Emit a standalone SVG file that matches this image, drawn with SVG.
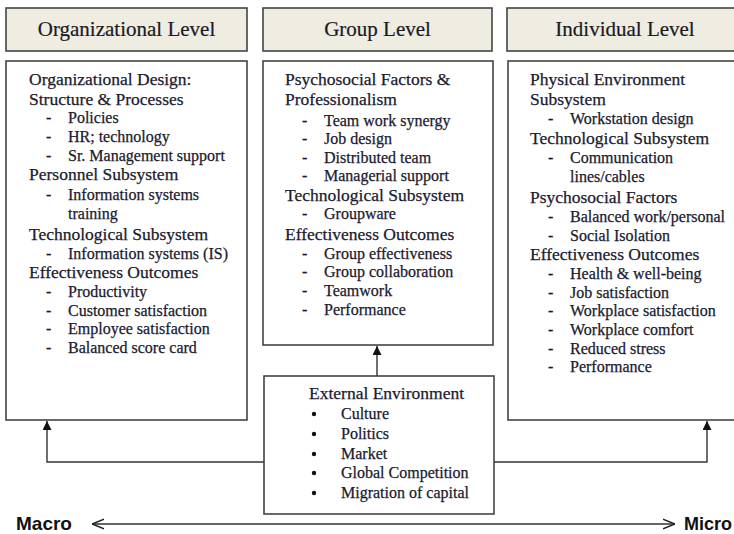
<svg xmlns="http://www.w3.org/2000/svg" width="734" height="534" viewBox="0 0 734 534">
<defs>
<marker id="tri" viewBox="0 0 10 10" refX="10" refY="5" markerWidth="9" markerHeight="9" markerUnits="userSpaceOnUse" orient="auto">
<path d="M0,0 L10,5 L0,10 z" fill="#111"/>
</marker>
<marker id="chev" viewBox="0 0 10 10" refX="10" refY="5" markerWidth="12" markerHeight="12" markerUnits="userSpaceOnUse" orient="auto-start-reverse">
<path d="M0,1 L10,5 L0,9" fill="none" stroke="#222" stroke-width="1.2"/>
</marker>
</defs>
<style>
.hdr{fill:#efece1;stroke:#444;stroke-width:1.6}
.box{fill:#fff;stroke:#444;stroke-width:1.6}
.ttl{font-family:"Liberation Serif",serif;font-size:21px;fill:#1a1a24;text-anchor:middle;stroke:#1a1a24;stroke-width:0.2}
.h{font-family:"Liberation Serif",serif;font-size:17.5px;fill:#1a1a2e;stroke:#1a1a2e;stroke-width:0.25}
.i{font-family:"Liberation Serif",serif;font-size:16px;fill:#1a1a2e;stroke:#1a1a2e;stroke-width:0.25}
.edge{fill:none;stroke:#333;stroke-width:1.4}
.lbl{font-family:"Liberation Sans",sans-serif;font-size:19px;font-weight:bold;fill:#111}
</style>
<rect width="734" height="534" fill="#fff"/>

<g id="org-header">
<rect class="hdr" x="6" y="8" width="241" height="43"/>
<text class="ttl" x="126.5" y="36">Organizational Level</text>
</g>
<g id="group-header">
<rect class="hdr" x="263" y="8" width="229" height="43"/>
<text class="ttl" x="377.5" y="36">Group Level</text>
</g>
<g id="individual-header">
<rect class="hdr" x="507" y="8" width="240" height="43"/>
<text class="ttl" x="625" y="36">Individual Level</text>
</g>

<g id="org-box">
<rect class="box" x="6" y="61" width="241" height="359"/>
<text class="h" x="29" y="85">Organizational Design:</text>
<text class="h" x="29" y="105">Structure &amp; Processes</text>
<text class="i" x="46" y="123">-</text><text class="i" x="68" y="123">Policies</text>
<text class="i" x="46" y="142">-</text><text class="i" x="68" y="142">HR; technology</text>
<text class="i" x="46" y="161">-</text><text class="i" x="68" y="161">Sr. Management support</text>
<text class="h" x="29" y="180">Personnel Subsystem</text>
<text class="i" x="46" y="200">-</text><text class="i" x="68" y="200">Information systems</text>
<text class="i" x="68" y="219">training</text>
<text class="h" x="29" y="240">Technological Subsystem</text>
<text class="i" x="46" y="259">-</text><text class="i" x="68" y="259">Information systems (IS)</text>
<text class="h" x="29" y="278">Effectiveness Outcomes</text>
<text class="i" x="46" y="297">-</text><text class="i" x="68" y="297">Productivity</text>
<text class="i" x="46" y="316">-</text><text class="i" x="68" y="316">Customer satisfaction</text>
<text class="i" x="46" y="334">-</text><text class="i" x="68" y="334">Employee satisfaction</text>
<text class="i" x="46" y="353">-</text><text class="i" x="68" y="353">Balanced score card</text>
</g>

<g id="group-box">
<rect class="box" x="263" y="61" width="230" height="284"/>
<text class="h" x="285" y="85">Psychosocial Factors &amp;</text>
<text class="h" x="285" y="105">Professionalism</text>
<text class="i" x="302" y="126">-</text><text class="i" x="324" y="126">Team work synergy</text>
<text class="i" x="302" y="144">-</text><text class="i" x="324" y="144">Job design</text>
<text class="i" x="302" y="163">-</text><text class="i" x="324" y="163">Distributed team</text>
<text class="i" x="302" y="181">-</text><text class="i" x="324" y="181">Managerial support</text>
<text class="h" x="285" y="201">Technological Subsystem</text>
<text class="i" x="302" y="219">-</text><text class="i" x="324" y="219">Groupware</text>
<text class="h" x="285" y="240">Effectiveness Outcomes</text>
<text class="i" x="302" y="259">-</text><text class="i" x="324" y="259">Group effectiveness</text>
<text class="i" x="302" y="277">-</text><text class="i" x="324" y="277">Group collaboration</text>
<text class="i" x="302" y="296">-</text><text class="i" x="324" y="296">Teamwork</text>
<text class="i" x="302" y="315">-</text><text class="i" x="324" y="315">Performance</text>
</g>

<g id="individual-box">
<rect class="box" x="508" y="61" width="240" height="359"/>
<text class="h" x="530" y="85">Physical Environment</text>
<text class="h" x="530" y="105">Subsystem</text>
<text class="i" x="548" y="124">-</text><text class="i" x="570" y="124">Workstation design</text>
<text class="h" x="530" y="144">Technological Subsystem</text>
<text class="i" x="548" y="163">-</text><text class="i" x="570" y="163">Communication</text>
<text class="i" x="570" y="182">lines/cables</text>
<text class="h" x="530" y="203">Psychosocial Factors</text>
<text class="i" x="548" y="222">-</text><text class="i" x="570" y="222">Balanced work/personal</text>
<text class="i" x="548" y="241">-</text><text class="i" x="570" y="241">Social Isolation</text>
<text class="h" x="530" y="260">Effectiveness Outcomes</text>
<text class="i" x="548" y="279">-</text><text class="i" x="570" y="279">Health &amp; well-being</text>
<text class="i" x="548" y="298">-</text><text class="i" x="570" y="298">Job satisfaction</text>
<text class="i" x="548" y="316">-</text><text class="i" x="570" y="316">Workplace satisfaction</text>
<text class="i" x="548" y="335">-</text><text class="i" x="570" y="335">Workplace comfort</text>
<text class="i" x="548" y="354">-</text><text class="i" x="570" y="354">Reduced stress</text>
<text class="i" x="548" y="372">-</text><text class="i" x="570" y="372">Performance</text>
</g>

<g id="external-box">
<rect class="box" x="264" y="376" width="230" height="138"/>
<text class="h" x="309" y="399">External Environment</text>
<circle cx="314" cy="414" r="2.2" fill="#111"/><text class="i" x="341" y="419">Culture</text>
<circle cx="314" cy="434" r="2.2" fill="#111"/><text class="i" x="341" y="439">Politics</text>
<circle cx="314" cy="454" r="2.2" fill="#111"/><text class="i" x="341" y="459">Market</text>
<circle cx="314" cy="473" r="2.2" fill="#111"/><text class="i" x="341" y="478">Global Competition</text>
<circle cx="314" cy="493" r="2.2" fill="#111"/><text class="i" x="341" y="498">Migration of capital</text>
</g>

<g id="connectors">
<path class="edge" d="M264,462 H47 V421" marker-end="url(#tri)"/>
<path class="edge" d="M494,462 H707 V421" marker-end="url(#tri)"/>
<path class="edge" d="M377,376 V346" marker-end="url(#tri)"/>
<path class="edge" d="M92,524 H675" marker-start="url(#chev)" marker-end="url(#chev)"/>
</g>

<g id="scale-labels">
<text class="lbl" x="16" y="530">Macro</text>
<text class="lbl" x="684" y="530" style="font-size:18px">Micro</text>
</g>
</svg>
